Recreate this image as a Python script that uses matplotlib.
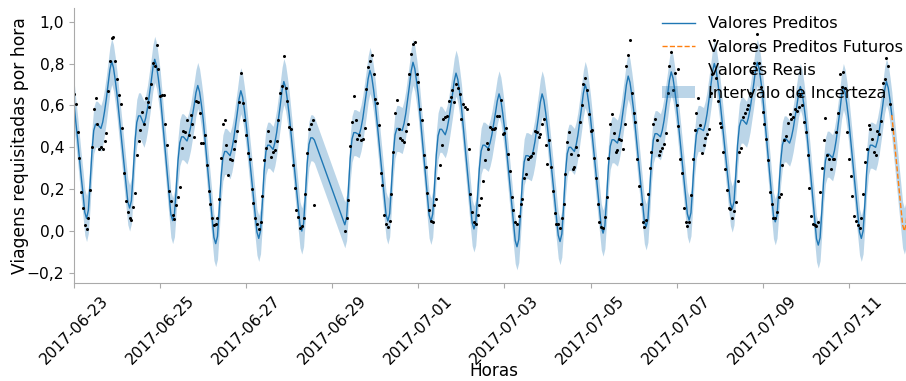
import matplotlib
matplotlib.use("Agg")
import matplotlib.pyplot as plt
from matplotlib.ticker import FuncFormatter
import matplotlib.dates as mdates
import numpy as np
import pandas as pd

# --- data (hourly) ---
# block A: 2017-06-23 00:00 -> 2017-06-28 14:00, then a gap in the history
start_a = "2017-06-23 00:00"
yhat_a = [
    0.61, 0.52, 0.44, 0.35, 0.26, 0.18, 0.09, 0.06, 0.10, 0.23, 0.38, 0.48, 0.51, 0.51, 0.50, 0.49, 0.52, 0.57, 0.63, 0.70, 0.77, 0.81, 0.78, 0.72,
    0.65, 0.565, 0.48, 0.395, 0.31, 0.225, 0.14, 0.11, 0.145, 0.277, 0.427, 0.519, 0.55, 0.55, 0.53, 0.51, 0.541, 0.588, 0.65, 0.712, 0.78, 0.82, 0.79, 0.73,
    0.66, 0.563, 0.467, 0.37, 0.273, 0.177, 0.08, 0.05, 0.082, 0.202, 0.338, 0.422, 0.45, 0.45, 0.44, 0.43, 0.457, 0.496, 0.549, 0.602, 0.661, 0.695, 0.665, 0.605,
    0.535, 0.44, 0.347, 0.253, 0.159, 0.065, -0.03, -0.06, -0.025, 0.107, 0.257, 0.349, 0.38, 0.38, 0.37, 0.36, 0.391, 0.438, 0.50, 0.562, 0.63, 0.67, 0.64, 0.58,
    0.51, 0.424, 0.338, 0.253, 0.167, 0.081, -0.005, -0.035, 0.001, 0.134, 0.285, 0.379, 0.41, 0.41, 0.40, 0.39, 0.422, 0.471, 0.536, 0.601, 0.672, 0.714, 0.684, 0.624,
    0.554, 0.467, 0.379, 0.292, 0.205, 0.117, 0.03, 0.00, 0.036, 0.169, 0.32, 0.414, 0.445, 0.445, 0.435,
]
real_a = [
    0.656, 0.606, 0.473, 0.351, 0.187, 0.108, 0.029, 0.01, 0.06, 0.198, 0.40, 0.584, 0.635, 0.51, 0.394, 0.40, 0.39, 0.43, 0.468, 0.67, 0.814, 0.922, 0.925, 0.814,
    0.724, 0.648, 0.606, 0.492, 0.278, 0.143, 0.092, 0.06, 0.052, 0.116, 0.184, 0.365, 0.43, 0.481, 0.568, 0.513, 0.635, 0.616, 0.592, 0.70, 0.803, 0.787, 0.889, 0.775,
    0.644, 0.651, 0.651, 0.513, 0.409, 0.191, 0.144, 0.076, 0.056, 0.124, 0.164, 0.211, 0.397, 0.476, 0.473, 0.532, 0.457, 0.552, 0.513, 0.449, 0.619, 0.616, 0.565, 0.422,
    0.42, 0.457, 0.317, 0.191, 0.127, 0.06, 0.029, 0.032, 0.06, 0.155, 0.35, 0.512, 0.528, 0.41, 0.266, 0.343, 0.337, 0.39, 0.429, 0.48, 0.616, 0.756, 0.613, 0.528,
    0.457, 0.375, 0.343, 0.20, 0.136, 0.063, 0.032, 0.01, 0.041, 0.168, 0.338, 0.397, 0.476, 0.429, 0.354, 0.378, 0.386, 0.43, 0.528, 0.66, 0.692, 0.835, 0.682, 0.619,
    0.497, 0.486, 0.317, 0.206, 0.10, 0.068, 0.016, 0.025, 0.06, 0.179, 0.373, 0.489, 0.509, 0.53, 0.124,
]

# block B: 2017-06-29 07:00 -> 2017-07-12 00:00
start_b = "2017-06-29 07:00"
yhat_b = [
    0.03, 0.065, 0.197, 0.347, 0.439, 0.47, 0.47, 0.465, 0.46, 0.491, 0.537, 0.598, 0.66, 0.727, 0.767, 0.737, 0.677,
    0.607, 0.519, 0.431, 0.343, 0.254, 0.166, 0.078, 0.048, 0.083, 0.216, 0.366, 0.459, 0.49, 0.49, 0.485, 0.48, 0.513, 0.562, 0.627, 0.692, 0.764, 0.806, 0.776, 0.716,
    0.646, 0.551, 0.456, 0.361, 0.266, 0.171, 0.076, 0.046, 0.081, 0.213, 0.363, 0.455, 0.486, 0.486, 0.473, 0.46, 0.489, 0.534, 0.592, 0.651, 0.716, 0.754, 0.724, 0.664,
    0.594, 0.502, 0.409, 0.317, 0.225, 0.132, 0.04, 0.01, 0.042, 0.162, 0.298, 0.382, 0.41, 0.41, 0.402, 0.395, 0.421, 0.46, 0.512, 0.564, 0.621, 0.655, 0.625, 0.565,
    0.495, 0.405, 0.315, 0.225, 0.135, 0.045, -0.045, -0.075, -0.04, 0.09, 0.238, 0.33, 0.36, 0.36, 0.355, 0.35, 0.381, 0.426, 0.487, 0.548, 0.615, 0.655, 0.625, 0.565,
    0.495, 0.409, 0.323, 0.238, 0.152, 0.066, -0.02, -0.05, -0.014, 0.121, 0.274, 0.369, 0.40, 0.40, 0.39, 0.38, 0.412, 0.46, 0.524, 0.588, 0.658, 0.70, 0.67, 0.61,
    0.54, 0.453, 0.367, 0.28, 0.193, 0.107, 0.02, -0.01, 0.026, 0.159, 0.311, 0.405, 0.436, 0.436, 0.428, 0.42, 0.452, 0.50, 0.564, 0.628, 0.698, 0.74, 0.71, 0.65,
    0.58, 0.492, 0.403, 0.315, 0.227, 0.138, 0.05, 0.02, 0.056, 0.189, 0.34, 0.434, 0.465, 0.465, 0.458, 0.45, 0.481, 0.528, 0.59, 0.652, 0.72, 0.76, 0.73, 0.67,
    0.60, 0.514, 0.427, 0.341, 0.255, 0.168, 0.082, 0.052, 0.087, 0.218, 0.367, 0.459, 0.49, 0.49, 0.485, 0.48, 0.512, 0.56, 0.624, 0.688, 0.758, 0.80, 0.77, 0.71,
    0.64, 0.556, 0.472, 0.388, 0.303, 0.219, 0.135, 0.105, 0.139, 0.267, 0.411, 0.50, 0.53, 0.53, 0.52, 0.51, 0.54, 0.584, 0.643, 0.702, 0.768, 0.806, 0.776, 0.716,
    0.646, 0.551, 0.455, 0.36, 0.265, 0.169, 0.074, 0.044, 0.076, 0.194, 0.329, 0.412, 0.44, 0.44, 0.43, 0.42, 0.447, 0.488, 0.542, 0.596, 0.655, 0.69, 0.66, 0.60,
    0.53, 0.436, 0.341, 0.247, 0.152, 0.058, -0.037, -0.067, -0.032, 0.098, 0.245, 0.337, 0.367, 0.367, 0.358, 0.35, 0.384, 0.435, 0.503, 0.571, 0.646, 0.69, 0.66, 0.60,
    0.53, 0.441, 0.352, 0.263, 0.173, 0.084, -0.005, -0.035, 0.001, 0.134, 0.285, 0.379, 0.41, 0.41, 0.405, 0.40, 0.431, 0.479, 0.541, 0.604, 0.673, 0.714, 0.684, 0.624,
    0.554,
]
real_b = [
    0.0, 0.06, 0.147, 0.406, 0.52, 0.644, 0.532, 0.441, 0.46, 0.433, 0.438, 0.492, 0.676, 0.782, 0.81, 0.841, 0.748,
    0.629, 0.613, 0.505, 0.275, 0.222, 0.079, 0.032, 0.021, 0.048, 0.179, 0.378, 0.565, 0.627, 0.489, 0.444, 0.433, 0.425, 0.48, 0.513, 0.751, 0.846, 0.894, 0.905, 0.751,
    0.711, 0.584, 0.528, 0.362, 0.306, 0.184, 0.10, 0.048, 0.044, 0.124, 0.151, 0.254, 0.317, 0.409, 0.536, 0.544, 0.547, 0.623, 0.64, 0.672, 0.616, 0.703, 0.682, 0.656,
    0.536, 0.608, 0.592, 0.584, 0.394, 0.176, 0.092, 0.044, 0.036, 0.079, 0.124, 0.159, 0.238, 0.337, 0.422, 0.394, 0.497, 0.489, 0.486, 0.492, 0.547, 0.547, 0.628, 0.465,
    0.47, 0.49, 0.367, 0.286, 0.163, 0.10, 0.041, 0.036, 0.073, 0.131, 0.152, 0.254, 0.274, 0.343, 0.354, 0.359, 0.375, 0.476, 0.473, 0.449, 0.465, 0.513, 0.536, 0.413,
    0.322, 0.436, 0.306, 0.191, 0.088, 0.032, 0.032, 0.013, 0.06, 0.131, 0.274, 0.425, 0.473, 0.37, 0.298, 0.306, 0.401, 0.362, 0.52, 0.60, 0.70, 0.73, 0.672, 0.56,
    0.476, 0.481, 0.35, 0.254, 0.127, 0.044, 0.02, 0.015, 0.068, 0.164, 0.35, 0.513, 0.56, 0.468, 0.376, 0.389, 0.441, 0.433, 0.39, 0.513, 0.786, 0.841, 0.913, 0.66,
    0.565, 0.52, 0.343, 0.215, 0.127, 0.044, 0.021, 0.052, 0.179, 0.30, 0.378, 0.513, 0.536, 0.433, 0.365, 0.381, 0.397, 0.417, 0.468, 0.66, 0.787, 0.854, 0.672, 0.754,
    0.60, 0.50, 0.346, 0.278, 0.111, 0.044, 0.025, 0.044, 0.174, 0.343, 0.481, 0.565, 0.635, 0.508, 0.375, 0.409, 0.444, 0.465, 0.486, 0.658, 0.748, 0.91, 0.73, 0.619,
    0.517, 0.497, 0.378, 0.296, 0.195, 0.111, 0.105, 0.06, 0.095, 0.14, 0.238, 0.378, 0.397, 0.544, 0.565, 0.584, 0.603, 0.66, 0.759, 0.803, 0.878, 0.941, 0.803, 0.687,
    0.568, 0.513, 0.44, 0.34, 0.187, 0.127, 0.063, 0.06, 0.092, 0.164, 0.179, 0.317, 0.433, 0.454, 0.517, 0.56, 0.536, 0.544, 0.584, 0.571, 0.592, 0.648, 0.60, 0.52,
    0.473, 0.362, 0.206, 0.073, 0.036, 0.029, 0.025, 0.044, 0.187, 0.302, 0.433, 0.54, 0.362, 0.346, 0.296, 0.343, 0.343, 0.473, 0.565, 0.749, 0.69, 0.759, 0.682, 0.473,
    0.346, 0.263, 0.168, 0.073, 0.048, 0.029, 0.016, 0.063, 0.179, 0.33, 0.391, 0.505, 0.489, 0.441, 0.378, 0.365, 0.476, 0.465, 0.524, 0.708, 0.724, 0.825, 0.79, 0.608,
    0.489,
]

# future forecast, 2017-07-12 00:00 -> 12:00
start_future = "2017-07-12 00:00"
yhat_future = [0.554, 0.467, 0.38, 0.293, 0.205, 0.118, 0.03, 0.0, 0.035, 0.16, 0.30, 0.39, 0.42]

band_half = 0.11  # half width of the uncertainty band

tick_dates = ["2017-06-23", "2017-06-25", "2017-06-27", "2017-06-29", "2017-07-01",
              "2017-07-03", "2017-07-05", "2017-07-07", "2017-07-09", "2017-07-11"]

# --- build series ---
t_hist = pd.date_range(start_a, periods=len(yhat_a), freq="h").append(
    pd.date_range(start_b, periods=len(yhat_b), freq="h"))
yhat_hist = np.array(yhat_a + yhat_b)
real_hist = np.array(real_a + real_b)
t_fut = pd.date_range(start_future, periods=len(yhat_future), freq="h")
yhat_fut = np.array(yhat_future)

blue = "#1f77b4"

fig = plt.figure(figsize=(9.06, 3.81), dpi=100)
ax = fig.add_axes([0.0817, 0.2572, 0.9264, 0.7218])

band = ax.fill_between(t_hist, yhat_hist - band_half, yhat_hist + band_half,
                       color=blue, alpha=0.3, linewidth=0)
ax.fill_between(t_fut, yhat_fut - band_half, yhat_fut + band_half,
                color=blue, alpha=0.3, linewidth=0)
l_pred, = ax.plot(t_hist, yhat_hist, color=blue, lw=1.0)
l_fut, = ax.plot(t_fut, yhat_fut, color="#ff7f0e", lw=1.0, ls="--")
l_real, = ax.plot(t_hist, real_hist, "k.", ms=2.4)

ax.set_xlim(t_hist[0], t_fut[-1])
ax.set_ylim(-0.248, 1.065)

ax.set_xticks(pd.to_datetime(tick_dates))
ax.xaxis.set_major_formatter(mdates.DateFormatter("%Y-%m-%d"))
ax.set_yticks([-0.2, 0.0, 0.2, 0.4, 0.6, 0.8, 1.0])
ax.yaxis.set_major_formatter(FuncFormatter(
    lambda v, p: f"{v:.1f}".replace("-0.0", "0.0").replace(".", ",").replace("-", "\u2212")))
ax.tick_params(axis="x", labelrotation=45, labelsize=11.2, color="#aaaaaa")
ax.tick_params(axis="y", labelsize=11.2, color="#aaaaaa")

for s in ["top", "right"]:
    ax.spines[s].set_visible(False)
for s in ["left", "bottom"]:
    ax.spines[s].set_color("#aaaaaa")

ax.set_xlabel("Horas", fontsize=12.2)
ax.set_ylabel("Viagens requisitadas por hora", fontsize=12.3)
ax.xaxis.set_label_coords(0.5, -0.287)
ax.yaxis.set_label_coords(-0.0536, 0.5)

ax.legend([l_pred, l_fut, l_real, band],
          ["Valores Preditos", "Valores Preditos Futuros", "Valores Reais", "Intervalo de Incerteza"],
          loc="upper left", bbox_to_anchor=(0.7236, 0.974), bbox_transform=fig.transFigure,
          borderaxespad=0, frameon=False, fontsize=11.7)

fig.savefig("out.png", dpi=100)
